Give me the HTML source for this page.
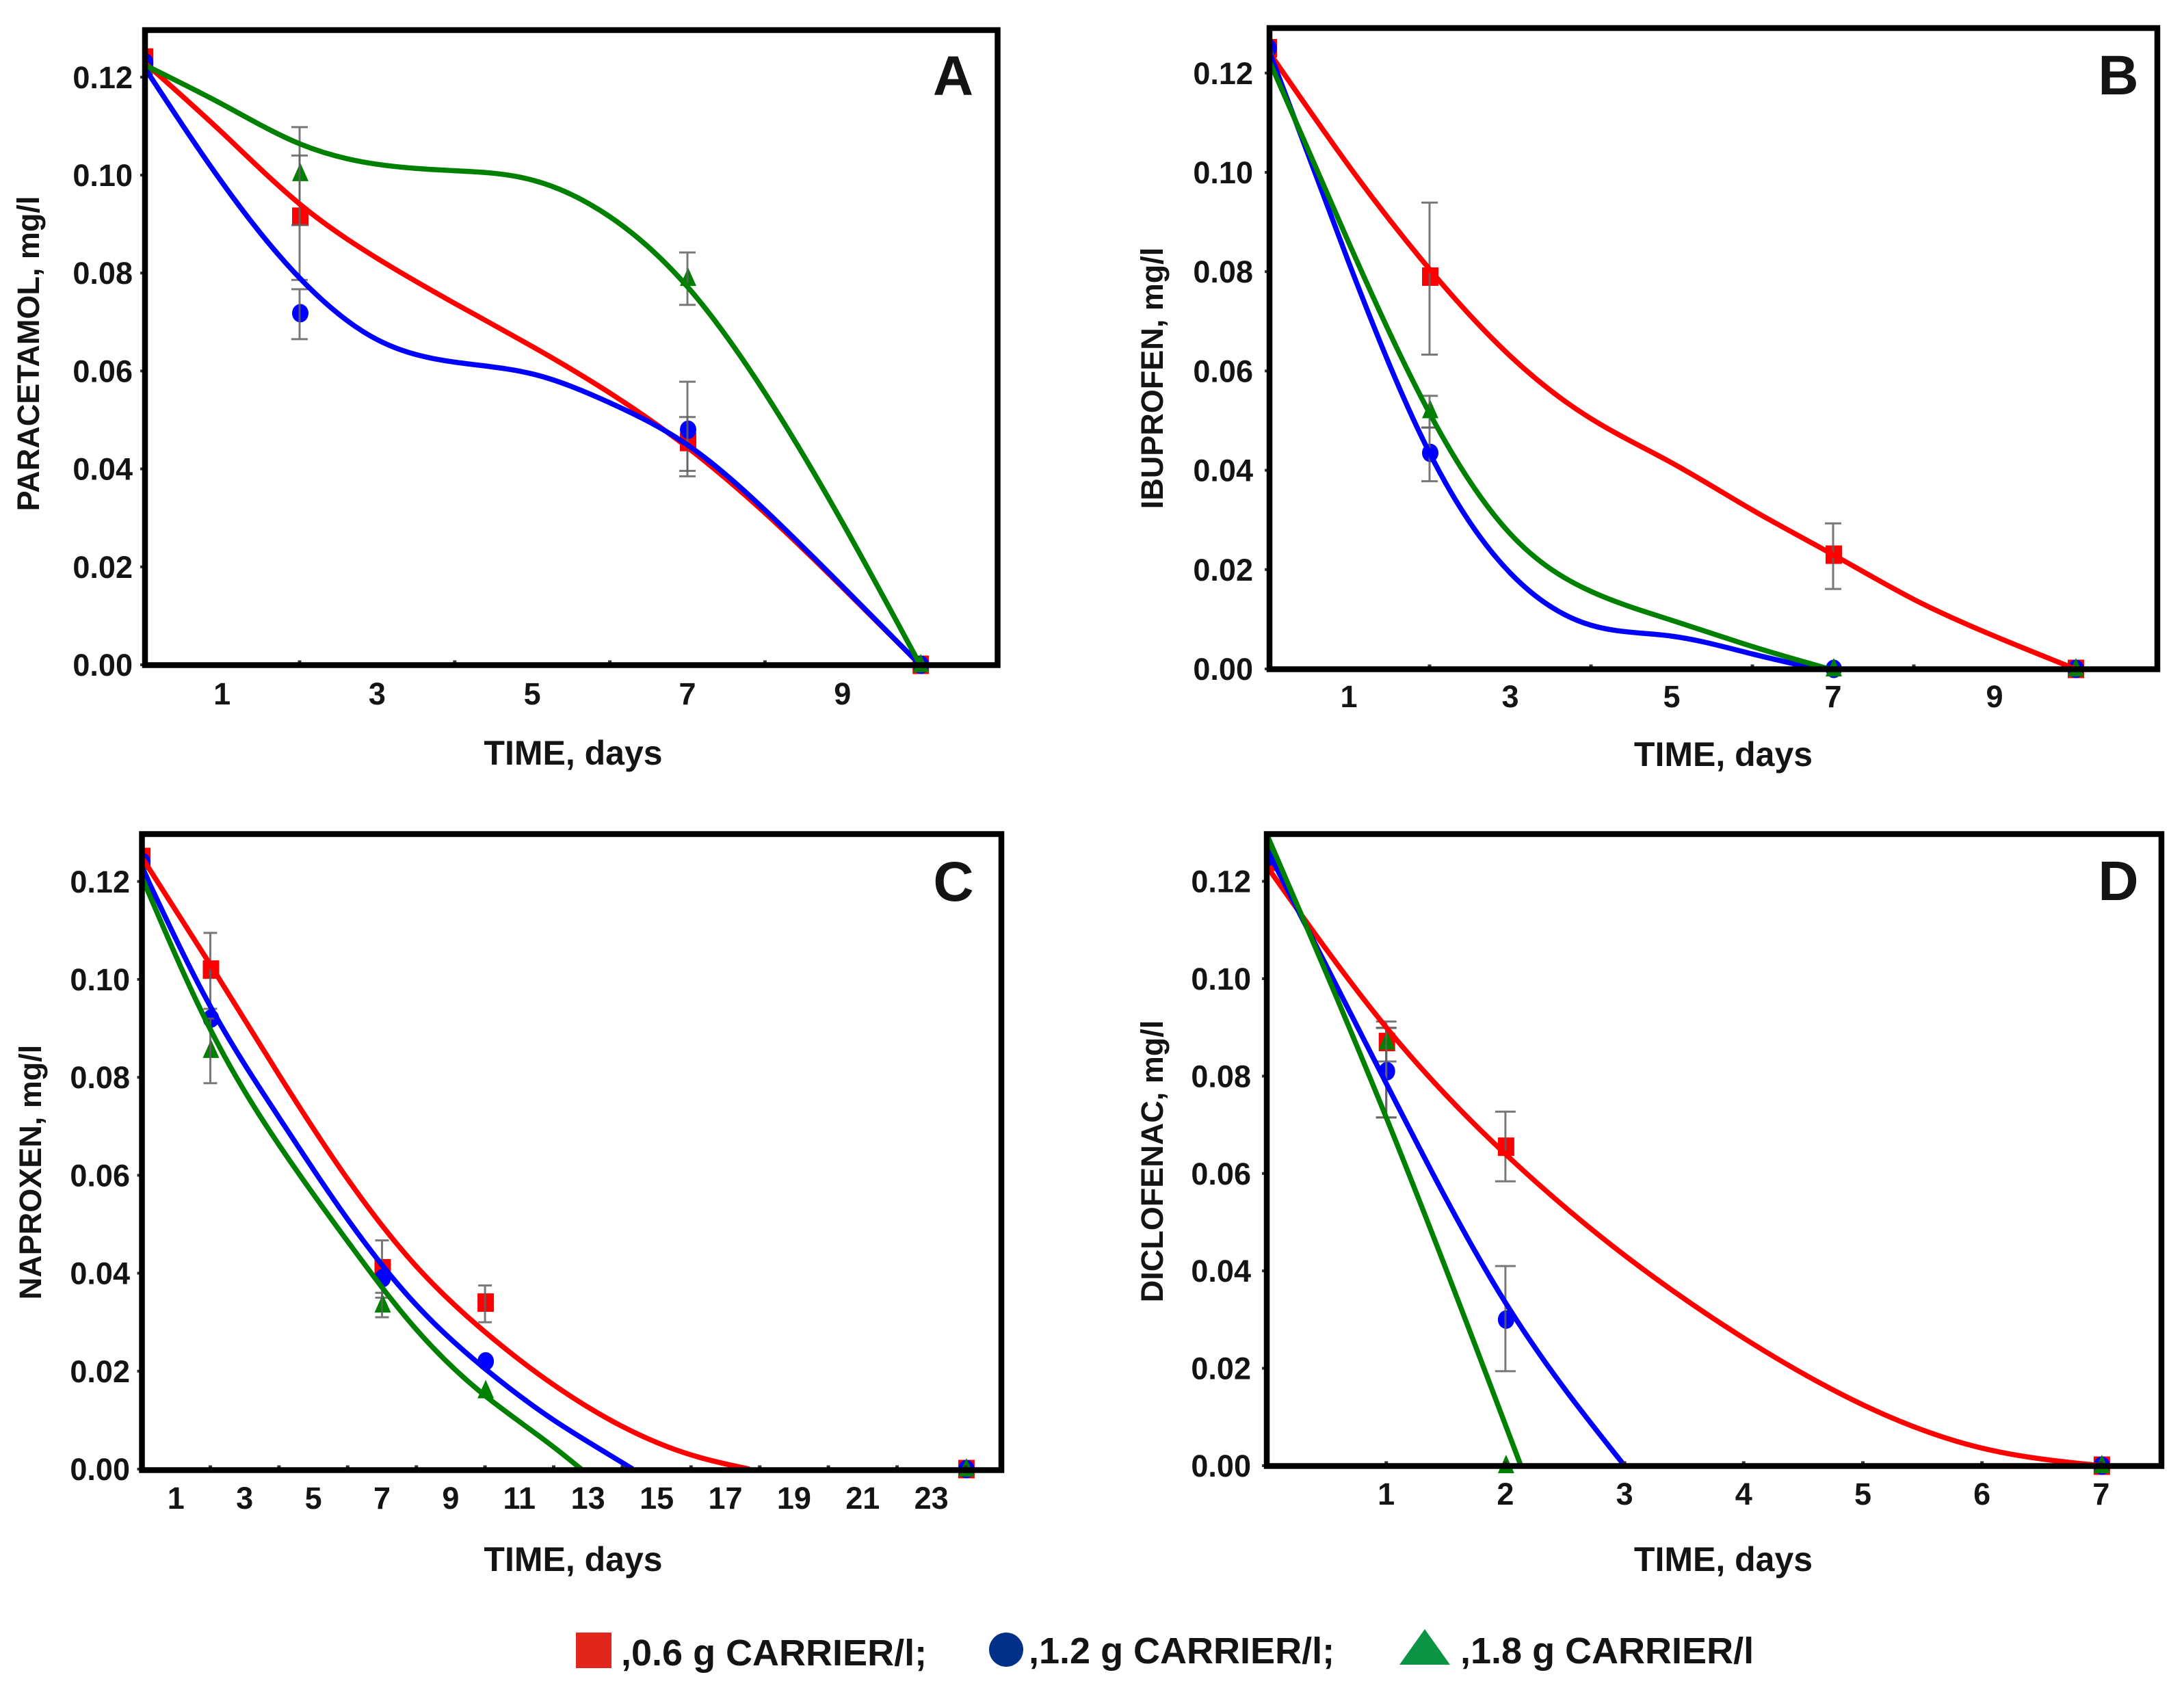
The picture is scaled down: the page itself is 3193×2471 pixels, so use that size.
<!DOCTYPE html>
<html>
<head>
<meta charset="utf-8">
<title>Drug removal over time at three carrier concentrations</title>
<style>
html,body{margin:0;padding:0;background:#fff;}
svg{display:block;}
text{font-family:"Liberation Sans",Arial,sans-serif;font-weight:bold;fill:#161314;}
</style>
</head>
<body>
<svg id="figure" xmlns="http://www.w3.org/2000/svg" width="3193" height="2471" viewBox="0 0 3193 2471">
  <rect x="0" y="0" width="3193" height="2471" fill="#ffffff"/>
  <g id="panels"></g>
  <g>
    <g>
      <rect x="842" y="2387" width="52" height="52" fill="#e1261c"/>
      <text x="908" y="2435" font-size="54">,0.6 g CARRIER/l;</text>
    </g>
    <g>
      <ellipse cx="1471" cy="2412" rx="25" ry="25" fill="#003087"/>
      <text x="1504" y="2432" font-size="54">,1.2 g CARRIER/l;</text>
    </g>
    <g>
      <polygon points="2083,2382 2120,2434 2046,2434" fill="#0b9444"/>
      <text x="2135" y="2432" font-size="54">,1.8 g CARRIER/l</text>
    </g>
  </g>
</svg>
<script>
// Shared axis values
const yTicks = [0, 0.02, 0.04, 0.06, 0.08, 0.10, 0.12];

// Panel A: paracetamol
const aXTicks = [1, 3, 5, 7, 9];
const aMinorTicks = [2, 4, 6, 8];
const aCurveDays = [0, 1, 2, 3, 4, 5, 6, 7, 8, 9, 10];
const aRedCurve = [0.123, 0.1087, 0.0941, 0.0830, 0.0738, 0.0650, 0.0555, 0.0444, 0.0310, 0.0158, 0];
const aBlueCurve = [0.122, 0.0985, 0.0790, 0.0664, 0.0618, 0.0594, 0.0535, 0.0449, 0.0316, 0.0160, 0];
const aGreenCurve = [0.1225, 0.1145, 0.1064, 0.1022, 0.1009, 0.0990, 0.0915, 0.0772, 0.0555, 0.0290, 0];
const aPointDays = [0, 2, 7, 10];
const aRedPoints = [0.124, 0.0915, 0.0455, 0];
const aRedLow = [null, 0.0786, 0.0385, null];
const aRedHigh = [null, 0.104, 0.0578, null];
const aBluePoints = [0.123, 0.0718, 0.048, 0];
const aBlueLow = [null, 0.0665, 0.0396, null];
const aBlueHigh = [null, 0.0767, 0.0506, null];
const aGreenPoints = [0.122, 0.1003, 0.0789, 0];
const aGreenLow = [null, 0.0898, 0.0735, null];
const aGreenHigh = [null, 0.1098, 0.0842, null];

// Panel B: ibuprofen
const bXTicks = [1, 3, 5, 7, 9];
const bMinorTicks = [2, 4, 6, 8];
const bRedDays = [0, 1, 2, 3, 4, 5, 6, 7, 8, 9, 10];
const bRedCurve = [0.1245, 0.1013, 0.0805, 0.063, 0.0504, 0.0415, 0.032, 0.023, 0.014, 0.0066, 0];
const bBlueDays = [0, 1, 2, 3, 4, 5, 6, 6.8];
const bBlueCurve = [0.125, 0.0818, 0.0435, 0.0193, 0.0088, 0.0066, 0.003, 0];
const bGreenDays = [0, 1, 2, 3, 4, 5, 6, 6.95];
const bGreenCurve = [0.123, 0.0858, 0.0515, 0.0272, 0.0156, 0.0098, 0.0045, 0];
const bRedPointDays = [0, 2, 7, 10];
const bRedPoints = [0.125, 0.079, 0.023, 0];
const bRedLow = [null, 0.0633, 0.0161, null];
const bRedHigh = [null, 0.0939, 0.0293, null];
const bOtherPointDays = [0, 2, 7, 10];
const bBluePoints = [0.125, 0.0435, 0, 0];
const bBlueLow = [null, 0.0378, null, null];
const bBlueHigh = [null, 0.0486, null, null];
const bGreenPoints = [0.124, 0.052, 0, 0];
const bGreenLow = [null, 0.0486, null, null];
const bGreenHigh = [null, 0.055, null, null];

// Panel C: naproxen
const cXTicks = [1, 3, 5, 7, 9, 11, 13, 15, 17, 19, 21, 23];
const cMinorTicks = [2, 4, 6, 8, 10, 12, 14, 16, 18, 20, 22, 24];
const cRedDays = [0, 2, 4, 6, 8, 10, 12, 14, 16, 17.7];
const cRedCurve = [0.125, 0.1030, 0.0805, 0.0592, 0.0414, 0.0280, 0.0172, 0.0087, 0.0029, 0];
const cBlueDays = [0, 2, 4, 6, 8, 10, 12, 14, 14.3];
const cBlueCurve = [0.123, 0.0945, 0.0718, 0.0510, 0.0335, 0.0205, 0.0100, 0.0013, 0];
const cGreenDays = [0, 2, 4, 6, 8, 10, 12, 12.8];
const cGreenCurve = [0.121, 0.0898, 0.0662, 0.0465, 0.0285, 0.0150, 0.0045, 0];
const cPointDays = [0, 2, 7, 10, 24];
const cRedPoints = [0.125, 0.102, 0.041, 0.034, 0];
const cRedLow = [null, 0.094, 0.035, 0.030, null];
const cRedHigh = [null, 0.1095, 0.0467, 0.0375, null];
const cBluePoints = [0.124, 0.092, 0.039, 0.022, 0];
const cBlueLow = [null, null, null, null, null];
const cBlueHigh = [null, null, null, null, null];
const cGreenPoints = [0.122, 0.0855, 0.0335, 0.016, 0];
const cGreenLow = [null, 0.0788, 0.031, null, null];
const cGreenHigh = [null, 0.092, 0.036, null, null];

// Panel D: diclofenac
const dXTicks = [1, 2, 3, 4, 5, 6, 7];
const dMinorTicks = [1, 2, 3, 4, 5, 6, 7];
const dRedDays = [0, 1, 2, 3, 4, 5, 6, 7];
const dRedCurve = [0.123, 0.0900, 0.0640, 0.0432, 0.0262, 0.0125, 0.0036, 0];
const dBlueDays = [0, 1, 2, 3];
const dBlueCurve = [0.1265, 0.0785, 0.0335, 0];
const dGreenDays = [0, 1, 2.13];
const dGreenCurve = [0.1295, 0.0715, 0];
const dPointDays = [0, 1, 2, 7];
const dRedPoints = [0.124, 0.087, 0.0655, 0];
const dRedLow = [null, 0.083, 0.0584, null];
const dRedHigh = [null, 0.0912, 0.0727, null];
const dBluePoints = [0.125, 0.081, 0.030, 0];
const dBlueLow = [null, 0.0715, 0.0194, null];
const dBlueHigh = [null, 0.0899, 0.041, null];
const dGreenPoints = [0.126, 0.087, 0, 0];
const dGreenLow = [null, 0.0715, null, null];
const dGreenHigh = [null, 0.0899, null, null];

const RED = '#ff0000';
const BLUE = '#0000ff';
const GREEN = '#008000';
const NS = 'http://www.w3.org/2000/svg';
const root = document.getElementById('panels');

function mk(tag, parent, attrs) {
  const node = document.createElementNS(NS, tag);
  for (const key in attrs) node.setAttribute(key, attrs[key]);
  parent.appendChild(node);
  return node;
}

// Natural cubic spline through the curve samples, emitted as beziers
function smoothPath(xs, ys) {
  const n = xs.length;
  const h = [];
  for (let i = 0; i < n - 1; i++) h.push(xs[i + 1] - xs[i]);
  const M = new Array(n).fill(0);
  const c = new Array(n).fill(0);
  const r = new Array(n).fill(0);
  for (let i = 1; i < n - 1; i++) {
    const diag = 2 * (h[i - 1] + h[i]) - h[i - 1] * c[i - 1];
    const rhs = 6 * ((ys[i + 1] - ys[i]) / h[i] - (ys[i] - ys[i - 1]) / h[i - 1]);
    c[i] = h[i] / diag;
    r[i] = (rhs - h[i - 1] * r[i - 1]) / diag;
  }
  for (let i = n - 2; i > 0; i--) M[i] = r[i] - c[i] * M[i + 1];
  let d = 'M' + xs[0].toFixed(1) + ' ' + ys[0].toFixed(1);
  for (let i = 0; i < n - 1; i++) {
    const s = (ys[i + 1] - ys[i]) / h[i];
    const d0 = s - h[i] * (2 * M[i] + M[i + 1]) / 6;
    const d1 = s + h[i] * (M[i] + 2 * M[i + 1]) / 6;
    const t = h[i] / 3;
    d += ' C' + (xs[i] + t).toFixed(1) + ' ' + (ys[i] + d0 * t).toFixed(1) + ' ' +
         (xs[i + 1] - t).toFixed(1) + ' ' + (ys[i + 1] - d1 * t).toFixed(1) + ' ' +
         xs[i + 1].toFixed(1) + ' ' + ys[i + 1].toFixed(1);
  }
  return d;
}

function drawMarker(g, kind, cx, cy, color) {
  let el;
  if (kind === 'square') {
    el = mk('rect', g, { x: cx - 12, y: cy - 13.5, width: 24, height: 27, fill: color });
  } else if (kind === 'circle') {
    el = mk('ellipse', g, { cx: cx, cy: cy, rx: 12, ry: 13.5, fill: color });
  } else {
    el = mk('polygon', g, { points: cx + ',' + (cy - 16) + ' ' + (cx + 12) + ',' + (cy + 11) + ' ' + (cx - 12) + ',' + (cy + 11), fill: color });
  }
  
  
}

function drawPanel(p) {
  const sx = function (v) { return p.x0 + v * p.dx; };
  const sy = function (v) { return p.y0 - v * p.dy; };
  const g = mk('g', root, {});
  
  

  const clipId = 'clip-' + p.letter;
  const markClipId = 'mark-clip-' + p.letter;
  const defs = mk('defs', g, {});
  const clip = mk('clipPath', defs, { id: clipId });
  mk('rect', clip, { x: p.left, y: p.top, width: p.right - p.left, height: p.bottom - p.top });
  const markClip = mk('clipPath', defs, { id: markClipId });
  mk('rect', markClip, { x: p.left - 3, y: 0, width: 3193, height: 2471 });

  // Markers and error bars sit beneath the fitted curves
  p.series.forEach(function (s) {
    const sg = mk('g', g, { 'clip-path': 'url(#' + markClipId + ')' });
    
    
    s.pointDays.forEach(function (day, i) {
      const cx = sx(day);
      drawMarker(sg, s.kind, cx + 1, sy(s.points[i]), s.color);
      if (s.low[i] !== null) {
        const bar = mk('path', sg, {
          d: 'M' + cx + ' ' + sy(s.low[i]) + ' V' + sy(s.high[i]) +
             ' M' + (cx - p.cap) + ' ' + sy(s.low[i]) + ' H' + (cx + p.cap) +
             ' M' + (cx - p.cap) + ' ' + sy(s.high[i]) + ' H' + (cx + p.cap),
          fill: 'none', stroke: '#606060', 'stroke-width': 3, 'stroke-opacity': 0.85
        });
        
        
      }
    });
  });

  p.series.forEach(function (s) {
    const curve = mk('path', g, {
      d: smoothPath(s.curveDays.map(sx), s.curve.map(sy)),
      fill: 'none', stroke: s.color, 'stroke-width': 7.5,
      'stroke-linejoin': 'round', 'clip-path': 'url(#' + clipId + ')'
    });
    
    
  });

  // Axis ticks
  p.minorTicks.forEach(function (t) {
    const tick = mk('line', g, { x1: sx(t), x2: sx(t), y1: p.bottom - 7, y2: p.bottom, stroke: '#333', 'stroke-width': 5 });
    
    
  });
  yTicks.forEach(function (t) {
    const tick = mk('line', g, { x1: p.left - 7, x2: p.left, y1: sy(t), y2: sy(t), stroke: '#333', 'stroke-width': 4 });
    
    
  });

  const frame = mk('rect', g, {
    x: p.left, y: p.top, width: p.right - p.left, height: p.bottom - p.top,
    fill: 'none', stroke: '#000', 'stroke-width': 8.5
  });
  
  

  yTicks.forEach(function (t) {
    const label = mk('text', g, { x: p.yLabelRight, y: sy(t) + 16, 'font-size': 45, 'text-anchor': 'end' });
    label.textContent = t.toFixed(2);
    
    
  });
  p.xTicks.forEach(function (t) {
    const label = mk('text', g, { x: sx(t), y: p.xLabelY, 'font-size': 45, 'text-anchor': 'middle' });
    label.textContent = String(t);
    
    
  });

  const xTitle = mk('text', g, { x: p.xTitleX, y: p.xTitleY, 'font-size': 50, 'text-anchor': 'middle' });
  xTitle.textContent = 'TIME, days';
  
  

  const yTitle = mk('text', g, {
    x: 0, y: 0, 'font-size': 45, 'text-anchor': 'middle',
    transform: 'translate(' + p.yTitleX + ' ' + p.yTitleY + ') rotate(-90)'
  });
  yTitle.textContent = p.yTitle;
  
  

  const letter = mk('text', g, { x: p.letterX, y: p.letterY, 'font-size': 82, 'text-anchor': 'middle' });
  letter.textContent = p.letter;
  
  
}

drawPanel({
  letter: 'A', yTitle: 'PARACETAMOL, mg/l',
  left: 212, right: 1458.5, top: 44, bottom: 972.5,
  x0: 211.2, dx: 113.4, y0: 972, dy: 7160,
  yLabelRight: 194, xLabelY: 1030, xTitleX: 838, xTitleY: 1118,
  yTitleX: 57, yTitleY: 517, letterX: 1393.5, letterY: 139, cap: 12,
  xTicks: aXTicks, minorTicks: aMinorTicks,
  series: [
    { name: 'red-0-6', kind: 'square', color: RED, curveDays: aCurveDays, curve: aRedCurve, pointDays: aPointDays, points: aRedPoints, low: aRedLow, high: aRedHigh },
    { name: 'blue-1-2', kind: 'circle', color: BLUE, curveDays: aCurveDays, curve: aBlueCurve, pointDays: aPointDays, points: aBluePoints, low: aBlueLow, high: aBlueHigh },
    { name: 'green-1-8', kind: 'triangle', color: GREEN, curveDays: aCurveDays, curve: aGreenCurve, pointDays: aPointDays, points: aGreenPoints, low: aGreenLow, high: aGreenHigh }
  ]
});

drawPanel({
  letter: 'B', yTitle: 'IBUPROFEN, mg/l',
  left: 1856, right: 3154, top: 41, bottom: 978.5,
  x0: 1854, dx: 118, y0: 978, dy: 7260,
  yLabelRight: 1832, xLabelY: 1034, xTitleX: 2519.5, xTitleY: 1120,
  yTitleX: 1700, yTitleY: 553, letterX: 3097, letterY: 138, cap: 12,
  xTicks: bXTicks, minorTicks: bMinorTicks,
  series: [
    { name: 'red-0-6', kind: 'square', color: RED, curveDays: bRedDays, curve: bRedCurve, pointDays: bRedPointDays, points: bRedPoints, low: bRedLow, high: bRedHigh },
    { name: 'blue-1-2', kind: 'circle', color: BLUE, curveDays: bBlueDays, curve: bBlueCurve, pointDays: bOtherPointDays, points: bBluePoints, low: bBlueLow, high: bBlueHigh },
    { name: 'green-1-8', kind: 'triangle', color: GREEN, curveDays: bGreenDays, curve: bGreenCurve, pointDays: bOtherPointDays, points: bGreenPoints, low: bGreenLow, high: bGreenHigh }
  ]
});

drawPanel({
  letter: 'C', yTitle: 'NAPROXEN, mg/l',
  left: 207.5, right: 1464, top: 1219.5, bottom: 2149.5,
  x0: 207.1, dx: 50.2, y0: 2148, dy: 7160,
  yLabelRight: 190, xLabelY: 2206, xTitleX: 838, xTitleY: 2297,
  yTitleX: 60, yTitleY: 1714, letterX: 1394, letterY: 1317, cap: 10,
  xTicks: cXTicks, minorTicks: cMinorTicks,
  series: [
    { name: 'red-0-6', kind: 'square', color: RED, curveDays: cRedDays, curve: cRedCurve, pointDays: cPointDays, points: cRedPoints, low: cRedLow, high: cRedHigh },
    { name: 'blue-1-2', kind: 'circle', color: BLUE, curveDays: cBlueDays, curve: cBlueCurve, pointDays: cPointDays, points: cBluePoints, low: cBlueLow, high: cBlueHigh },
    { name: 'green-1-8', kind: 'triangle', color: GREEN, curveDays: cGreenDays, curve: cGreenCurve, pointDays: cPointDays, points: cGreenPoints, low: cGreenLow, high: cGreenHigh }
  ]
});

drawPanel({
  letter: 'D', yTitle: 'DICLOFENAC, mg/l',
  left: 1852, right: 3160, top: 1219.5, bottom: 2143.5,
  x0: 1852.5, dx: 174.2, y0: 2143, dy: 7120,
  yLabelRight: 1829, xLabelY: 2200, xTitleX: 2519.5, xTitleY: 2297,
  yTitleX: 1700, yTitleY: 1698, letterX: 3097, letterY: 1316, cap: 15,
  xTicks: dXTicks, minorTicks: dMinorTicks,
  series: [
    { name: 'red-0-6', kind: 'square', color: RED, curveDays: dRedDays, curve: dRedCurve, pointDays: dPointDays, points: dRedPoints, low: dRedLow, high: dRedHigh },
    { name: 'blue-1-2', kind: 'circle', color: BLUE, curveDays: dBlueDays, curve: dBlueCurve, pointDays: dPointDays, points: dBluePoints, low: dBlueLow, high: dBlueHigh },
    { name: 'green-1-8', kind: 'triangle', color: GREEN, curveDays: dGreenDays, curve: dGreenCurve, pointDays: dPointDays, points: dGreenPoints, low: dGreenLow, high: dGreenHigh }
  ]
});
</script>
</body>
</html>
